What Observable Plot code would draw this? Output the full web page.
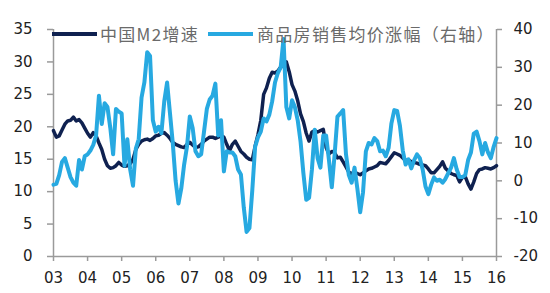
<!DOCTYPE html>
<html>
<head>
<meta charset="utf-8">
<script src="https://cdn.jsdelivr.net/npm/d3@7"></script>
<script src="https://cdn.jsdelivr.net/npm/@observablehq/plot@0.6"></script>
<style>
  html, body { margin: 0; padding: 0; background: #fff; }
  #wrap { position: relative; width: 550px; height: 293px; overflow: hidden; }
  .leg-line { position: absolute; height: 4px; }
  .leg-text { position: absolute; font-family: "Noto Sans CJK SC", sans-serif; font-size: 17px; color: #6a6a6a; letter-spacing: 1.3px; line-height: 20px; white-space: nowrap; }
</style>
</head>
<body>
<div id="wrap"></div>
<script>
// ---- data (monthly, Jan 2003 .. Jan 2016) ----
const startYear = 2003;
const yearTicks = [2003,2004,2005,2006,2007,2008,2009,2010,2011,2012,2013,2014,2015,2016];
const yearLabels = ["03","04","05","06","07","08","09","10","11","12","13","14","15","16"];
const leftTicks = [0,5,10,15,20,25,30,35];
const rightTicks = [-20,-10,0,10,20,30,40];
const seriesNames = ["中国M2增速", "商品房销售均价涨幅（右轴）"];

// 中国M2增速 (%, left axis)
const m2 = [
  19.4,18.4,18.6,19.5,20.4,20.9,21.0,21.5,20.9,21.1,20.6,19.8,
  19.0,18.4,19.1,18.6,17.5,16.5,15.0,14.0,13.6,13.7,14.0,14.5,
  14.1,13.9,14.0,14.3,15.0,16.5,17.3,17.8,18.0,18.1,17.9,18.2,
  18.6,18.7,19.0,19.1,18.7,18.2,17.6,17.3,17.1,16.9,16.8,17.3,
  17.6,17.2,16.8,16.9,17.3,17.8,18.1,18.4,18.4,18.2,18.4,18.6,
  18.4,17.3,16.3,17.3,17.8,17.0,16.2,15.8,15.3,15.0,14.9,17.0,
  18.8,21.0,25.0,26.0,27.5,28.4,28.3,28.6,29.2,29.5,30.0,28.5,
  26.5,25.5,24.0,22.0,20.8,19.0,17.8,19.2,19.4,19.2,19.4,19.6,
  16.8,15.8,16.2,16.0,15.2,15.3,14.6,13.8,13.0,12.8,13.0,12.8,
  12.6,12.9,13.2,13.5,13.6,13.8,14.0,14.5,14.4,14.3,14.8,15.4,
  16.0,15.8,15.6,15.2,14.8,14.9,14.6,14.5,14.4,14.2,14.1,14.0,
  13.5,12.9,12.9,13.4,13.9,14.6,13.6,13.2,12.8,12.6,12.5,11.5,
  12.2,12.3,11.2,10.4,11.5,12.8,13.4,13.5,13.7,13.6,13.5,13.7,
  14.0
];

// 商品房销售均价涨幅 (%, right axis)
const price = [
  -1.0,-0.8,1.5,5.0,6.0,3.5,1.0,-0.5,-1.3,5.5,3.0,6.5,
  7.0,8.0,9.5,12.0,22.5,15.0,20.5,19.5,14.0,7.0,19.0,18.3,
  17.8,4.0,11.0,3.0,-1.3,8.5,11.0,22.0,26.0,34.0,33.0,16.0,
  13.0,14.3,12.6,21.0,26.0,18.0,10.0,0.0,-6.0,-2.0,4.3,9.0,
  17.0,14.0,7.8,6.5,7.0,13.0,19.0,21.5,22.5,25.7,12.0,16.0,
  2.5,7.8,7.5,7.5,6.5,3.0,1.7,-7.0,-13.5,-12.5,-2.5,9.0,
  11.5,13.0,16.5,15.7,17.5,21.0,26.0,28.5,30.0,37.5,19.5,16.5,
  21.3,19.5,16.0,10.4,2.0,-5.0,-4.5,3.0,13.5,6.0,3.5,12.0,
  12.0,5.5,-1.7,7.0,17.0,17.8,18.7,7.0,1.5,-0.5,3.5,-2.0,
  -8.3,-3.0,7.8,10.0,9.6,11.3,10.5,7.8,8.0,6.5,8.7,15.2,
  18.7,18.5,14.5,8.0,4.3,5.7,3.3,5.5,7.0,6.0,3.0,-1.5,
  -3.5,-1.0,0.9,0.0,0.3,-0.5,0.5,2.0,3.5,6.0,3.0,1.0,
  1.0,1.5,5.5,7.5,12.5,13.0,10.5,7.0,10.0,7.5,6.0,9.0,
  11.3
];

const colors = ["#0f2150", "#27a9e1"];

// map right-axis values onto left scale
const leftDomain = [leftTicks[0], leftTicks[leftTicks.length - 1]];
const rightDomain = [rightTicks[0], rightTicks[rightTicks.length - 1]];
const toLeft = v => leftDomain[0] + (v - rightDomain[0]) * (leftDomain[1] - leftDomain[0]) / (rightDomain[1] - rightDomain[0]);
const toRight = y => rightDomain[0] + (y - leftDomain[0]) * (rightDomain[1] - rightDomain[0]) / (leftDomain[1] - leftDomain[0]);

const m2Data = m2.map((v, i) => ({t: startYear + i / 12, v}));
const priceData = price.map((v, i) => ({t: startYear + i / 12, v: toLeft(v)}));
const xDomain = [yearTicks[0], yearTicks[yearTicks.length - 1]];

const axisColor = "#9a9a9a";
const chart = Plot.plot({
  width: 550,
  height: 293,
  marginLeft: 53,
  marginRight: 54,
  marginTop: 29,
  marginBottom: 37,
  style: {fontFamily: "DejaVu Sans, sans-serif", fontSize: "15px", color: "#222", background: "#fff"},
  x: {domain: xDomain},
  y: {domain: leftDomain},
  marks: [
    Plot.axisX(yearTicks, {tickSize: 5, tickPadding: 11, stroke: axisColor, strokeWidth: 1.5, fill: "#222", tickFormat: d => yearLabels[yearTicks.indexOf(d)], label: null}),
    Plot.axisY(leftTicks, {anchor: "left", tickSize: 6, tickPadding: 15, stroke: axisColor, strokeWidth: 1.5, fill: "#222", label: null}),
    Plot.axisY(rightTicks.map(toLeft), {anchor: "right", tickSize: 5, tickPadding: 12, stroke: axisColor, strokeWidth: 1.5, fill: "#222", tickFormat: d => String(Math.round(toRight(d))), label: null}),
    Plot.ruleX([xDomain[0]], {stroke: axisColor, strokeWidth: 1.5}),
    Plot.ruleX([xDomain[1]], {stroke: axisColor, strokeWidth: 1.5}),
    Plot.ruleY([leftDomain[0]], {stroke: axisColor, strokeWidth: 1.5}),
    Plot.line(m2Data, {x: "t", y: "v", stroke: colors[0], strokeWidth: 3.5, strokeLinejoin: "round"}),
    Plot.line(priceData, {x: "t", y: "v", stroke: colors[1], strokeWidth: 4, strokeLinejoin: "round"})
  ]
});

const wrap = document.getElementById("wrap");
wrap.appendChild(chart);

// legend overlay
const legendItems = [
  {lineLeft: 52, textLeft: 100, color: colors[0], name: seriesNames[0]},
  {lineLeft: 208, textLeft: 257, color: colors[1], name: seriesNames[1]}
];
for (const it of legendItems) {
  const ln = document.createElement("div");
  ln.className = "leg-line";
  ln.style.left = it.lineLeft + "px";
  ln.style.top = "32px";
  ln.style.width = "45px";
  ln.style.background = it.color;
  wrap.appendChild(ln);
  const tx = document.createElement("div");
  tx.className = "leg-text";
  tx.style.left = it.textLeft + "px";
  tx.style.top = "24px";
  tx.textContent = it.name;
  wrap.appendChild(tx);
}
</script>
</body>
</html>
